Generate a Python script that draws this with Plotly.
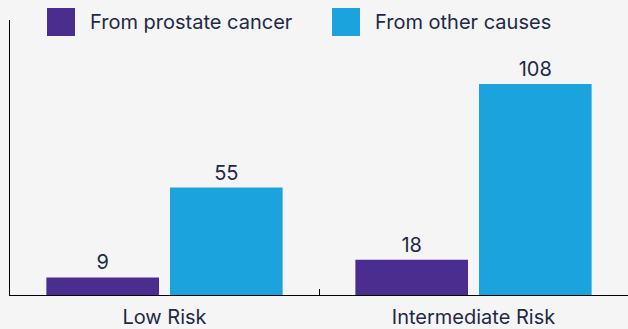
import plotly.graph_objects as go

# Data
categories = ["Low Risk", "Intermediate Risk"]
prostate_deaths = [9, 18]
other_deaths = [55, 108]
series_names = ["From prostate cancer", "From other causes"]
series_colors = ["#4a2d8f", "#1aa3dd"]

text_color = "#1e2a45"
font_family = "Inter, Roboto, sans-serif"
font_size = 20

# Plot-area geometry (pixels) used for the hand-drawn legend
plot_w, plot_h = 618, 275
margin_l, margin_t = 10, 20

fig = go.Figure()
for name, vals, color in zip(series_names, [prostate_deaths, other_deaths], series_colors):
    fig.add_trace(go.Bar(
        x=categories, y=vals, name=name,
        marker=dict(color=color, line=dict(width=0)),
        text=[str(v) for v in vals], textposition="outside",
        textfont=dict(size=font_size, color=text_color, family=font_family),
        cliponaxis=False,
    ))

# Custom legend keys: square swatches with labels along the top
legend_left_px = [47, 332]
for name, color, lpx in zip(series_names, series_colors, legend_left_px):
    x0 = (lpx - margin_l) / plot_w
    fig.add_shape(type="rect", xref="paper", yref="paper",
                  x0=x0, x1=x0 + 28 / plot_w,
                  y0=1 - (36 - margin_t) / plot_h, y1=1 + (margin_t - 8) / plot_h,
                  fillcolor=color, line=dict(width=0), layer="above")
    fig.add_annotation(x=x0 + 41 / plot_w, y=1 - (22 - margin_t) / plot_h,
                       xref="paper", yref="paper",
                       text=name, showarrow=False, xanchor="left", yanchor="middle",
                       font=dict(size=font_size, color=text_color, family=font_family))

fig.update_layout(
    width=628, height=329,
    margin=dict(l=margin_l, r=0, t=margin_t, b=34),
    paper_bgcolor="#f5f5f5", plot_bgcolor="#f5f5f5",
    barmode="group", bargap=0.2, bargroupgap=0.0887,
    showlegend=False,
    font=dict(family=font_family, color=text_color, size=font_size),
)
fig.update_xaxes(
    showline=True, linecolor="#000000", linewidth=1,
    ticks="inside", tickson="boundaries", ticklen=6, tickcolor="#000000",
    tickfont=dict(size=font_size, color=text_color, family=font_family),
    ticklabelstandoff=4,
    showgrid=False,
)
fig.update_yaxes(
    range=[0, 140.7], showline=True, linecolor="#000000", linewidth=1,
    showticklabels=False, ticks="", showgrid=False, zeroline=False,
)

fig.write_html("out.html")
